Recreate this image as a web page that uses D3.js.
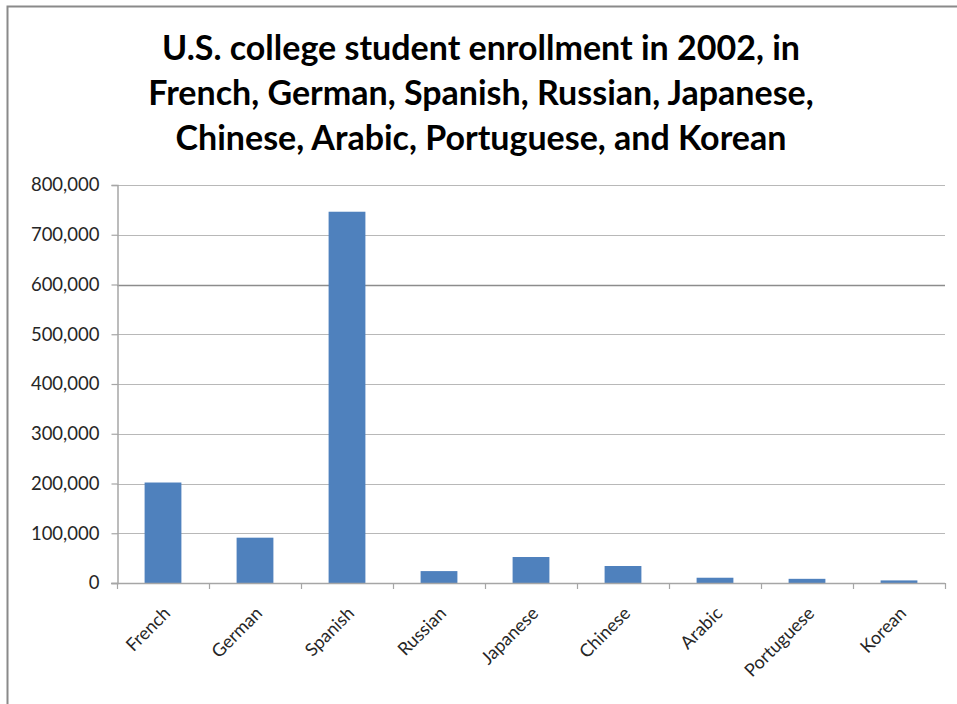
<!DOCTYPE html>
<html>
<head>
<meta charset="utf-8">
<script src="https://cdn.jsdelivr.net/npm/d3@7"></script>
<style>
  html, body { margin: 0; padding: 0; background: #fff; }
  svg { display: block; }
</style>
</head>
<body>
<svg id="chart" width="957" height="704"></svg>
<script>
// Enrollment counts by language, fall 2002
const languages = ["French", "German", "Spanish", "Russian", "Japanese", "Chinese", "Arabic", "Portuguese", "Korean"];
const enrollments = [201979, 91100, 746267, 23921, 52238, 34153, 10584, 8385, 5211];
const yTicks = [0, 100000, 200000, 300000, 400000, 500000, 600000, 700000, 800000];
const titleLines = [
  "U.S. college student enrollment in 2002, in",
  "French, German, Spanish, Russian, Japanese,",
  "Chinese, Arabic, Portuguese, and Korean"
];

const svg = d3.select("#chart");
const W = 957, H = 704;
const margin = { left: 117, right: 12, top: 185, bottom: 121 };
const fontFamily = "Lato, 'Open Sans', 'DejaVu Sans', sans-serif";

// outer frame (top and left edges visible)
svg.append("path")
  .attr("d", `M7.5,${H} L7.5,6.5 L${W},6.5`)
  .attr("fill", "none")
  .attr("stroke", "#8a8a8a")
  .attr("stroke-width", 2);

// title
svg.append("g").selectAll("text")
  .data(titleLines)
  .join("text")
  .attr("x", 481)
  .attr("y", (d, i) => 60 + i * 45)
  .attr("text-anchor", "middle")
  .attr("font-family", fontFamily)
  .attr("font-weight", "bold")
  .attr("font-size", 34)
  .attr("fill", "#000")
  .text(d => d);

const x = d3.scaleBand()
  .domain(languages)
  .range([margin.left, W - margin.right])
  .paddingInner(0.6)
  .paddingOuter(0.3);

const y = d3.scaleLinear()
  .domain([0, 800000])
  .range([H - margin.bottom, margin.top]);

// gridlines
svg.append("g").selectAll("line")
  .data(yTicks.filter(t => t > 0))
  .join("line")
  .attr("x1", margin.left)
  .attr("x2", W - margin.right)
  .attr("y1", d => Math.round(y(d)) + 0.5)
  .attr("y2", d => Math.round(y(d)) + 0.5)
  .attr("stroke", d => d === 600000 ? "#8c8c8c" : "#b8b8b8")
  .attr("stroke-width", d => d === 600000 ? 1.6 : 1.2);

// bars
svg.append("g").selectAll("rect")
  .data(languages.map((l, i) => ({ l, v: enrollments[i] })))
  .join("rect")
  .attr("x", d => x(d.l))
  .attr("width", x.bandwidth())
  .attr("y", d => y(d.v))
  .attr("height", d => y(0) - y(d.v))
  .attr("fill", "#4f81bd");

// y axis
const yAxis = d3.axisLeft(y)
  .tickValues(yTicks)
  .tickSize(6)
  .tickPadding(12)
  .tickFormat(d3.format(","));
const gy = svg.append("g")
  .attr("transform", `translate(${margin.left + 0.5},0)`)
  .call(yAxis);
gy.select(".domain").attr("stroke", "#a6a6a6").attr("stroke-width", 1.5);
gy.selectAll(".tick line").attr("stroke", "#a6a6a6").attr("stroke-width", 1.2);
gy.selectAll(".tick text")
  .attr("font-family", fontFamily)
  .attr("font-size", 18.5)
  .attr("fill", "#262626");

// x axis with tick marks at category boundaries
const bounds = d3.range(languages.length + 1).map(i => margin.left + i * (W - margin.right - margin.left) / languages.length);
const gx = svg.append("g");
gx.append("line")
  .attr("x1", margin.left - 6)
  .attr("x2", W - margin.right)
  .attr("y1", y(0) + 0.5)
  .attr("y2", y(0) + 0.5)
  .attr("stroke", "#a6a6a6")
  .attr("stroke-width", 1.5);
gx.selectAll("line.tk")
  .data(bounds)
  .join("line")
  .attr("class", "tk")
  .attr("x1", d => Math.round(d) + 0.5)
  .attr("x2", d => Math.round(d) + 0.5)
  .attr("y1", y(0))
  .attr("y2", y(0) + 6)
  .attr("stroke", "#a6a6a6")
  .attr("stroke-width", 1.2);

// rotated category labels
gx.selectAll("text")
  .data(languages)
  .join("text")
  .attr("transform", d => `translate(${x(d) + x.bandwidth() / 2 + 4},${y(0) + 27}) rotate(-45)`)
  .attr("text-anchor", "end")
  .attr("dy", "0.35em")
  .attr("font-family", fontFamily)
  .attr("font-size", 18)
  .attr("fill", "#262626")
  .text(d => d);
</script>
</body>
</html>
